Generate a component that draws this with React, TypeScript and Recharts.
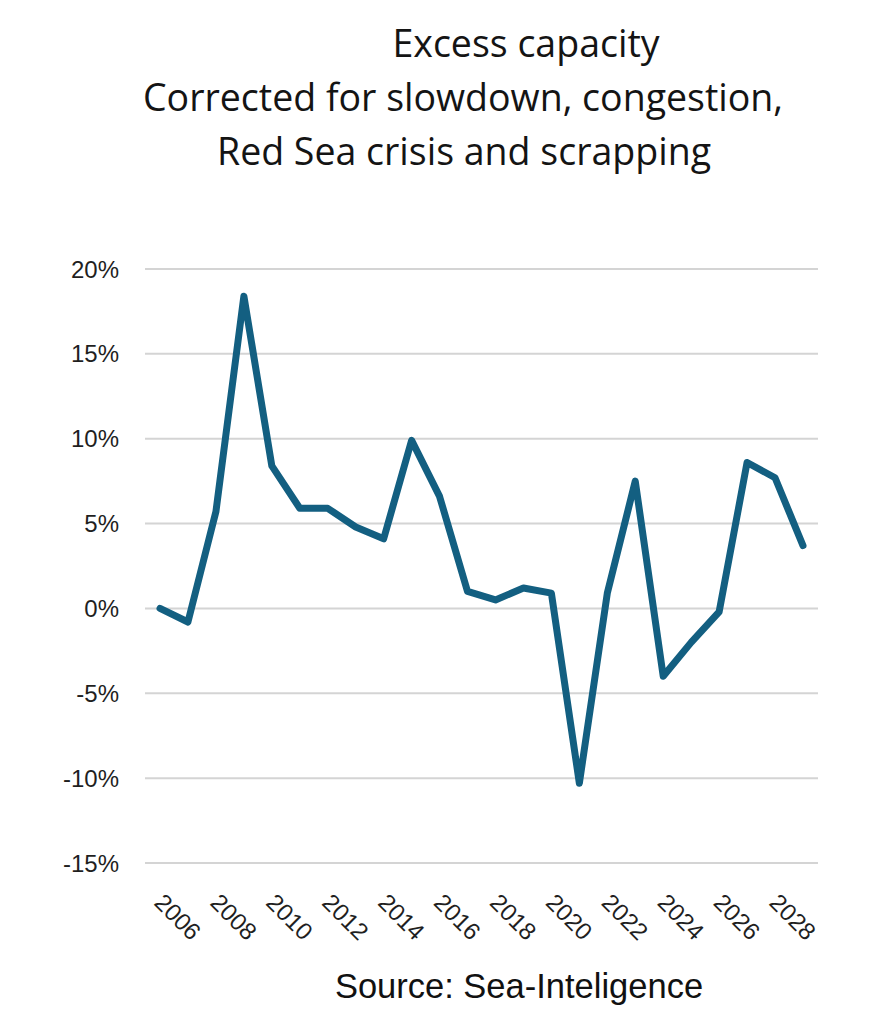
import React from "react";
import { LineChart, Line, XAxis, YAxis, CartesianGrid } from "recharts";

const years = [
  "2006", "2007", "2008", "2009", "2010", "2011", "2012", "2013", "2014", "2015", "2016", "2017",
  "2018", "2019", "2020", "2021", "2022", "2023", "2024", "2025", "2026", "2027", "2028", "2029",
];
const excessCapacity = [
  0, -0.8, 5.7, 18.4, 8.4, 5.9, 5.9, 4.8, 4.1, 9.9, 6.6, 1.0,
  0.5, 1.2, 0.9, -10.3, 0.9, 7.5, -4.0, -2.0, -0.2, 8.6, 7.7, 3.7,
];
const yTicks = [-15, -10, -5, 0, 5, 10, 15, 20];
const titleLines = ["Excess capacity", "Corrected for slowdown, congestion,", "Red Sea crisis and scrapping"];
const sourceText = "Source: Sea-Inteligence";

const data = years.map((y, i) => ({ year: y, value: excessCapacity[i] }));

const W = 874;
const H = 1006;

const XTick = (props: any) => {
  const { x, y, payload } = props;
  return (
    <g transform={`translate(${x - 7},${y + 41})`}>
      <text
        transform="rotate(45)"
        textAnchor="start"
        fontFamily="'Liberation Sans', Arial, sans-serif"
        fontSize={24}
        fill="#1f1f1f"
      >
        {payload.value}
      </text>
    </g>
  );
};

export default function App() {
  return (
    <div style={{ position: "relative", width: W, height: H, background: "#fff" }}>
      <LineChart
        width={W}
        height={H}
        data={data}
        margin={{ top: 261, right: 64, bottom: 91, left: 57 }}
      >
        <CartesianGrid vertical={false} stroke="#d4d4d4" strokeWidth={2} />
        <XAxis
          dataKey="year"
          interval={1}
          axisLine={false}
          tickLine={false}
          tickSize={0}
          tickMargin={0}
          height={60}
          padding={{ left: 15, right: 15 }}
          tick={<XTick />}
        />
        <YAxis
          domain={[-15, 20]}
          ticks={yTicks}
          width={80}
          axisLine={false}
          tickLine={false}
          tickMargin={20}
          tickFormatter={(v: number) => `${v}%`}
          tick={{ fontFamily: "'Liberation Sans', Arial, sans-serif", fontSize: 24, fill: "#1f1f1f" }}
        />
        <Line
          type="linear"
          dataKey="value"
          stroke="#135f81"
          strokeWidth={7}
          strokeLinejoin="round"
          strokeLinecap="round"
          dot={false}
          isAnimationActive={false}
        />
      </LineChart>
      <svg
        width={W}
        height={H}
        style={{ position: "absolute", left: 0, top: 0, pointerEvents: "none" }}
      >
        <text x={518} y={49} textAnchor="middle" fontFamily="'Open Sans', sans-serif" fontSize={37.5} fill="#141414">
          {titleLines[0]}
        </text>
        <text x={455} y={103} textAnchor="middle" fontFamily="'Open Sans', sans-serif" fontSize={37.5} fill="#141414">
          {titleLines[1]}
        </text>
        <text x={456} y={157} textAnchor="middle" fontFamily="'Open Sans', sans-serif" fontSize={37.5} fill="#141414">
          {titleLines[2]}
        </text>
        <text x={511} y={990} textAnchor="middle" fontFamily="'Liberation Sans', Arial, sans-serif" fontSize={34.5} fill="#111">
          {sourceText}
        </text>
      </svg>
    </div>
  );
}
